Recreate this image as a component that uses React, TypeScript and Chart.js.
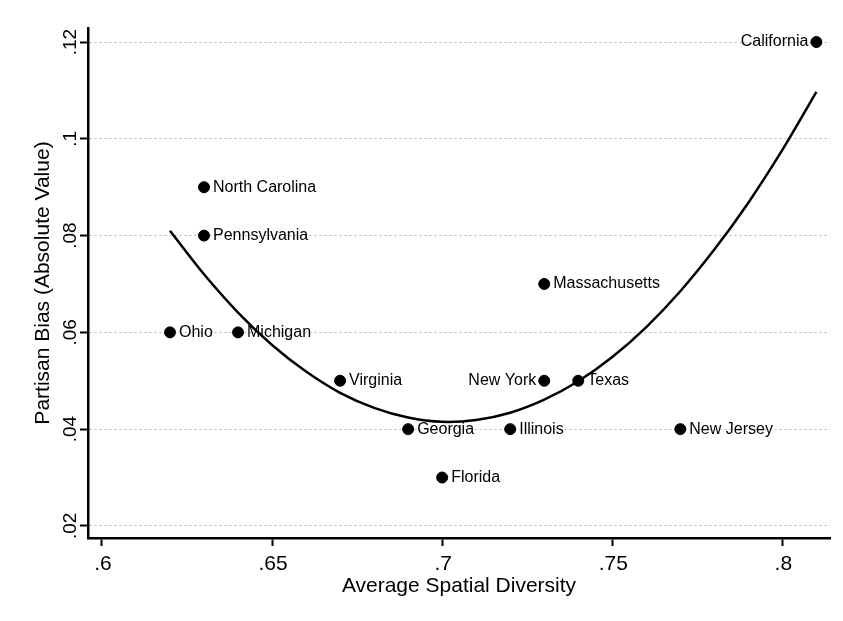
import React, { useEffect, useRef } from "react";
import { Chart, registerables } from "chart.js";

Chart.register(...registerables);

// State observations: average spatial diversity vs. absolute partisan bias
const states = [
  "California", "North Carolina", "Pennsylvania", "Massachusetts", "Ohio", "Michigan",
  "Virginia", "New York", "Texas", "Georgia", "Illinois", "New Jersey", "Florida",
];
const diversity = [0.81, 0.63, 0.63, 0.73, 0.62, 0.64, 0.67, 0.73, 0.74, 0.69, 0.72, 0.77, 0.7];
const bias = [0.12, 0.09, 0.08, 0.07, 0.06, 0.06, 0.05, 0.05, 0.05, 0.04, 0.04, 0.04, 0.03];
const labelsOnLeft = ["California", "New York"];

// Quadratic fit line
const fitX = [0.62, 0.63, 0.64, 0.65, 0.66, 0.67, 0.68, 0.69, 0.7, 0.71, 0.72, 0.73, 0.74, 0.75, 0.76, 0.77, 0.78, 0.79, 0.8, 0.81];
const fitY = [0.081, 0.072, 0.0641, 0.0574, 0.0519, 0.0475, 0.0444, 0.0424, 0.0415, 0.0419, 0.0434, 0.0461, 0.0499, 0.0549, 0.0611, 0.0685, 0.0771, 0.0868, 0.0977, 0.1097];

const xTicks = [0.6, 0.65, 0.7, 0.75, 0.8];
const yTicks = [0.02, 0.04, 0.06, 0.08, 0.1, 0.12];

const xTitle = "Average Spatial Diversity";
const yTitle = "Partisan Bias (Absolute Value)";

const FONT = "'Liberation Sans', Arial, Helvetica, sans-serif";

// ".65" style labels without the leading zero
const fmt = (v: number) => v.toFixed(2).replace(/0+$/, "").replace(/^0/, "");

const labelPlugin = {
  id: "stataLabels",
  afterDraw(chart: any) {
    const ctx = chart.ctx as CanvasRenderingContext2D;
    const xs = chart.scales.x;
    const ys = chart.scales.y;
    const area = chart.chartArea;
    ctx.save();
    ctx.fillStyle = "#000";

    // point labels
    ctx.font = `16px ${FONT}`;
    ctx.textBaseline = "middle";
    states.forEach((name, i) => {
      const px = xs.getPixelForValue(diversity[i]);
      const py = ys.getPixelForValue(bias[i]);
      if (labelsOnLeft.includes(name)) {
        ctx.textAlign = "right";
        ctx.fillText(name, px - 8, py);
      } else {
        ctx.textAlign = "left";
        ctx.fillText(name, px + 9, py);
      }
    });

    // x tick labels
    ctx.font = `21px ${FONT}`;
    ctx.textAlign = "center";
    ctx.textBaseline = "middle";
    xTicks.forEach((v) => {
      ctx.fillText(fmt(v), xs.getPixelForValue(v) + 1, area.bottom + 26);
    });

    // y tick labels, rotated
    ctx.font = `19px ${FONT}`;
    yTicks.forEach((v) => {
      const py = ys.getPixelForValue(v);
      ctx.save();
      ctx.translate(area.left - 17, py);
      ctx.rotate(-Math.PI / 2);
      ctx.textAlign = "center";
      ctx.textBaseline = "middle";
      ctx.fillText(fmt(v), 0, 0);
      ctx.restore();
    });

    // axis titles
    ctx.font = `21px ${FONT}`;
    ctx.textAlign = "center";
    ctx.textBaseline = "middle";
    ctx.fillText(xTitle, (area.left + area.right) / 2, area.bottom + 48);
    ctx.save();
    ctx.translate(area.left - 45, (area.top + area.bottom) / 2);
    ctx.rotate(-Math.PI / 2);
    ctx.fillText(yTitle, 0, 0);
    ctx.restore();

    ctx.restore();
  },
};

export default function App() {
  const canvasRef = useRef<HTMLCanvasElement | null>(null);

  useEffect(() => {
    if (!canvasRef.current) return;
    const chart = new Chart(canvasRef.current, {
      type: "scatter",
      data: {
        datasets: [
          {
            label: "Fit",
            data: fitX.map((x, i) => ({ x, y: fitY[i] })),
            showLine: true,
            borderColor: "#000",
            borderWidth: 2.5,
            pointRadius: 0,
            tension: 0.3,
            order: 2,
          },
          {
            label: "States",
            data: diversity.map((x, i) => ({ x, y: bias[i] })),
            backgroundColor: "#000",
            borderColor: "#000",
            pointRadius: 5.5,
            pointHoverRadius: 5.5,
            order: 1,
          },
        ],
      },
      options: {
        animation: false,
        responsive: true,
        maintainAspectRatio: false,
        layout: { padding: { left: 80, top: 28, right: 13, bottom: 75 } },
        plugins: { legend: { display: false }, tooltip: { enabled: false } },
        scales: {
          x: {
            type: "linear",
            min: 0.5959,
            max: 0.814,
            afterBuildTicks: (s: any) => {
              s.ticks = xTicks.map((value) => ({ value }));
            },
            ticks: { display: false },
            grid: {
              drawOnChartArea: false,
              drawTicks: true,
              tickLength: 8,
              tickColor: "#000",
              tickWidth: 2,
            },
            border: { display: true, color: "#000", width: 2.5 },
          },
          y: {
            type: "linear",
            min: 0.0175,
            max: 0.1229,
            afterBuildTicks: (s: any) => {
              s.ticks = yTicks.map((value) => ({ value }));
            },
            ticks: { display: false },
            grid: {
              drawOnChartArea: true,
              color: "#b4b4b4",
              lineWidth: 1,
              drawTicks: true,
              tickLength: 8,
              tickColor: "#000",
              tickWidth: 2,
            },
            border: { display: true, color: "#000", width: 2.5, dash: [2, 3] },
          },
        },
      },
      plugins: [labelPlugin],
    });
    return () => chart.destroy();
  }, []);

  return (
    <div style={{ position: "fixed", left: 0, top: 0, width: 843, height: 621, background: "#fff" }}>
      <canvas ref={canvasRef} />
    </div>
  );
}
